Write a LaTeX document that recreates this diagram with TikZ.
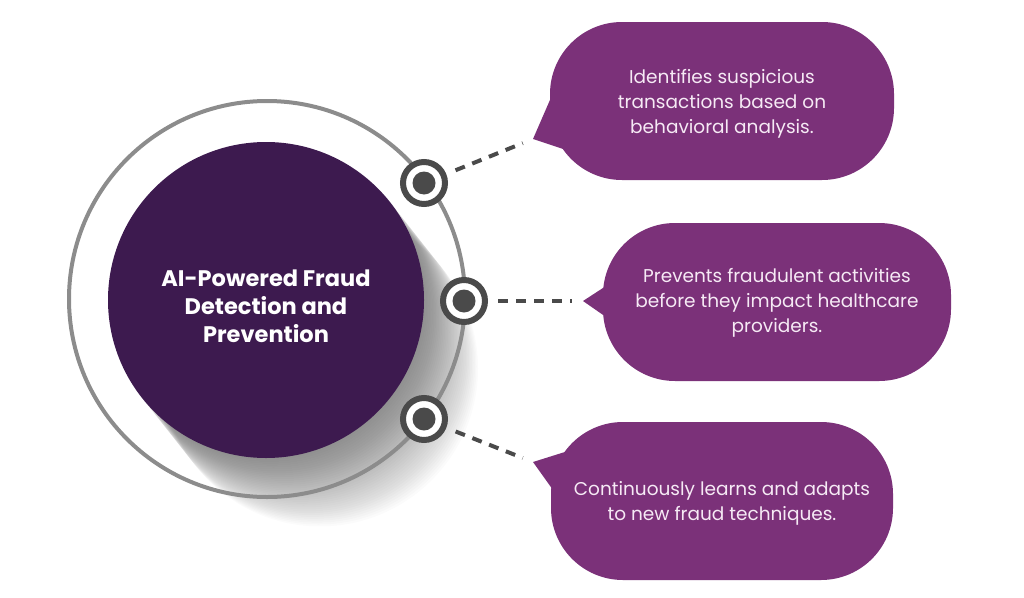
\documentclass[tikz,border=0pt]{standalone}
\usepackage{fontspec}
\setmainfont{Poppins}
\definecolor{hubc}{HTML}{3D1A4F}
\definecolor{bubc}{HTML}{7B3179}
\definecolor{orbc}{HTML}{8C8C8C}
\definecolor{pinc}{HTML}{4A4A4A}
\definecolor{bubtxt}{HTML}{F6EAF5}

\begin{document}
\begin{tikzpicture}[
  x=1pt, y=-1pt,
  hub/.style={circle, fill=hubc, minimum size=316pt, inner sep=0pt},
  hubtext/.style={text=white, align=center, font=\bfseries\fontsize{22.5}{28}\selectfont},
  orbit/.style={circle, draw=orbc, line width=4pt, minimum size=396pt, inner sep=0pt},
  pin/.style={circle, draw=pinc, fill=white, line width=6pt, minimum size=42pt, inner sep=0pt,
              path picture={\fill[pinc] (path picture bounding box.center) circle (11.5pt);}},
  bubble/.style={fill=bubc, rounded corners=72pt, minimum height=158pt, inner sep=0pt},
  bubtext/.style={text=bubtxt, align=center, font=\fontsize{18.5}{25}\selectfont},
  link/.style={draw=pinc, line width=4pt, dash pattern=on 10pt off 8pt,
               shorten <=10pt, shorten >=11pt}]
\useasboundingbox (0,0) rectangle (1024,597);
% long soft shadow of the hub
\foreach \i in {1,...,36}
  \fill[black, opacity=0.015] (266+1.5*\i, 300+1.9*\i) circle (158);
\node[orbit] (orbit) at (267,299) {};
\node[hub]   (hub)   at (266,300) {};
\node[hubtext] at ([yshift=-6pt]hub.center) {AI-Powered Fraud\\Detection and\\Prevention};
\node[pin] (p1) at (424,183) {};
\node[pin] (p2) at (464,301) {};
\node[pin] (p3) at (424,419) {};
% bubble tails
\coordinate (t1) at (533,139);
\coordinate (t2) at (583,301);
\coordinate (t3) at (533,462);
\fill[bubc] (t1) -- (553,93) -- (566,150) -- cycle;
\fill[bubc] (t2) -- (606,286) -- (606,317) -- cycle;
\fill[bubc] (t3) -- (568,451) -- (553,490) -- cycle;
\node[bubble, minimum width=344pt] (b1) at (722,101) {};
\node[bubble, minimum width=348pt] (b2) at (777,302) {};
\node[bubble, minimum width=342pt] (b3) at (722,501) {};
\node[bubtext] at ([yshift=-3pt]b1.center) {Identifies suspicious\\transactions based on\\behavioral analysis.};
\node[bubtext] at ([yshift=-1pt]b2.center) {Prevents fraudulent activities\\before they impact healthcare\\providers.};
\node[bubtext] at ([yshift=-2pt]b3.center) {Continuously learns and adapts\\to new fraud techniques.};
\draw[link] (p1) -- (t1);
\draw[link] (p2) -- (t2);
\draw[link] (p3) -- (t3);
\end{tikzpicture}
\end{document}
